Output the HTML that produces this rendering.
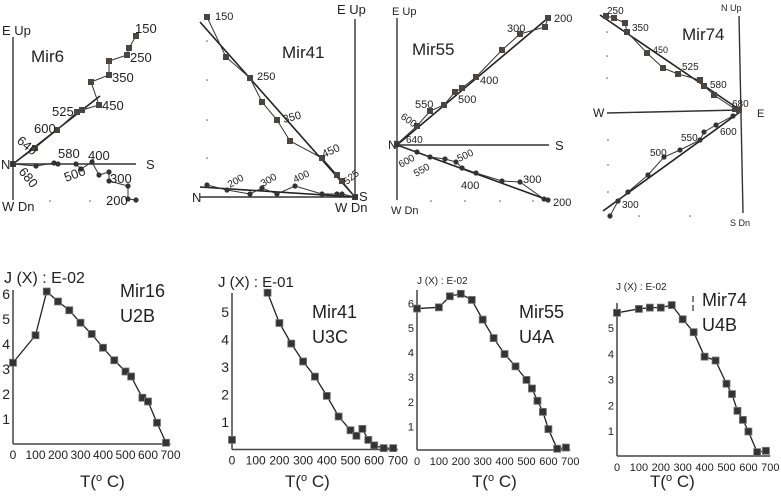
<!DOCTYPE html>
<html><head><meta charset="utf-8"><style>
body{margin:0;background:#fff;}
svg{display:block;font-family:"Liberation Sans",sans-serif;}
</style></head><body>
<svg id="fig" width="781" height="498" viewBox="0 0 781 498" xmlns="http://www.w3.org/2000/svg"></svg>
<script>
// ---------- Intensity decay data ----------
const tMir16=[0,100,150,200,250,300,350,400,450,500,525,575,600,640,680];
const jMir16=[3.25,4.35,6.1,5.7,5.35,4.85,4.4,3.85,3.35,2.9,2.7,1.85,1.7,0.85,0.05];
const tMir41=[0,150,200,250,300,350,400,450,500,525,550,575,600,640,680];
const jMir41=[0.35,5.7,4.6,3.85,3.2,2.65,1.95,1.2,0.7,0.5,0.75,0.35,0.15,0.05,0.05];
const tMir55=[0,100,150,200,250,300,350,400,450,500,525,550,575,600,640,680];
const jMir55=[5.75,5.8,6.25,6.35,6.1,5.3,4.55,3.9,3.4,2.85,2.5,2.0,1.55,0.85,0.05,0.1];
const tMir74=[0,100,150,200,250,300,350,400,450,500,525,550,575,600,640,680];
const jMir74=[5.55,5.7,5.75,5.75,5.85,5.3,4.8,3.85,3.7,2.8,2.4,1.75,1.4,0.95,0.15,0.2];
const xTicks=[0,100,200,300,400,500,600,700];
const yTicks6=[1,2,3,4,5,6];
const yTicks5=[1,2,3,4,5];

// ---------- Zijderveld data (offsets from origin, arbitrary units) ----------
const z6H=[[123,128],[116,116],[114,109],[96,103],[96,89],[78,82],[86,59],[69,54],[64,52],[44,34],[22,16],[0,0]];
const z6V=[[0,0],[23,-2],[41,1],[45,0],[63,0],[68,-5],[79,2],[86,-11],[96,-8],[96,-17],[115,-22],[115,-35],[123,-36]];
const z41H=[[-148,180],[-129,140],[-105,119],[-93,95],[-78,77],[-65,56],[-33,39],[-18,22],[-13,16],[0,0]];
const z41V=[[-148,12],[-128,7],[-105,3],[-93,9],[-78,3],[-60,11],[-33,3],[-18,3],[-13,3],[0,0]];
const z55H=[[151,127],[148,118],[123,111],[105,95],[79,68],[65,57],[58,53],[47,40],[33,34],[20,19],[0,1]];
const z55V=[[0,0],[20,-7],[33,-12],[48,-14],[59,-17],[65,-23],[79,-28],[105,-36],[123,-37],[147,-54],[151,-55]];
const z74H=[[-133,95],[-125,93],[-114,88],[-112,79],[-92,58],[-76,43],[-61,37],[-39,31],[-35,25],[-25,16],[-4,2],[0,1]];
const z74V=[[-6,-5],[-23,-14],[-35,-21],[-39,-29],[-59,-39],[-75,-46],[-91,-64],[-111,-81],[-121,-90],[-129,-105]];

const svg=document.getElementById('fig');
const NS='http://www.w3.org/2000/svg';
function el(tag,attrs,parent){const e=document.createElementNS(NS,tag);for(const k in attrs)e.setAttribute(k,attrs[k]);(parent||svg).appendChild(e);return e;}
function txt(x,y,s,size,parent,rot){const t=el('text',{x:x,y:y,'font-size':size,fill:'#222'},parent);if(rot)t.setAttribute('transform','rotate('+rot+' '+x+' '+y+')');t.textContent=s;return t;}

// ---------- decay panels ----------
function decay(name,T,J,x0,k100,y0,kUnit,yTop,yTicks,title,titleX,titleY,titleSize,lab1,lab2,labX,labY,tlabX,lineStart){
  const g=el('g',{});
  
  
  const sx=t=>x0+t*k100/100, sy=v=>y0-v*kUnit;
  const ax=el('line',{x1:x0,y1:yTop,x2:x0,y2:y0,stroke:'#444','stroke-width':1.5},g);
  
  const bx=el('line',{x1:x0,y1:y0,x2:sx(700),y2:y0,stroke:'#444','stroke-width':1.5},g);
  
  xTicks.forEach(t=>{const l=txt(sx(t),y0+15,String(t),titleSize>11?12:11,g);l.setAttribute('text-anchor','middle');
    });
  yTicks.forEach(v=>{const l=txt(x0-3,sy(v)+5,String(v),titleSize>11?14:11,g);l.setAttribute('text-anchor','end');
    });
  const tl=txt(titleX,titleY,title,titleSize,g);
  const l1=txt(labX,labY,lab1,18,g);
  const l2=txt(labX,labY+25,lab2,18,g);
  const xt=el('text',{x:tlabX,y:487,'font-size':17,fill:'#222'},g);
  xt.innerHTML='T(<tspan font-size="11" dy="-6">o</tspan><tspan dy="6"> C)</tspan>';
  
  const pts=T.map((t,i)=>sx(t)+','+sy(J[i])).slice(lineStart||0).join(' ');
  const pl=el('polyline',{points:pts,fill:'none',stroke:'#222','stroke-width':1.3},g);
  
  T.forEach((t,i)=>{const r=el('rect',{x:sx(t)-3.5,y:sy(J[i])-3.5,width:7,height:7,fill:'#333',stroke:'#777','stroke-width':0.8},g);
    });
}
decay('mir16',tMir16,jMir16,13,22.5,444,25,290,yTicks6,'J (X) : E-02',4,283,16,'Mir16','U2B',120,297,80,0);
decay('mir41',tMir41,jMir41,232,23.7,449.5,27.5,293,yTicks5,'J (X) : E-01',218,287,15,'Mir41','U3C',312,318,285,1);
decay('mir55',tMir55,jMir55,417,21.9,450,24.6,290,yTicks6,'J (X) : E-02',417,284,10,'Mir55','U4A',519,318,472,0);
decay('mir74',tMir74,jMir74,617,21.9,456,25.8,303,yTicks5,'J (X) : E-02',616,290,10,'Mir74','U4B',702,306,650,0);
const dm=el('line',{x1:693,y1:296,x2:693,y2:313,stroke:'#555','stroke-width':1.5,'stroke-dasharray':'6,3'});


// ---------- Zijderveld panels ----------
function zij(name,ox,oy,H,V,fitH,fitV,axes,labels){
  const g=el('g',{});
  
  
  const px=p=>ox+p[0], py=p=>oy-p[1];
  axes.lines.forEach(a=>{const l=el('line',{x1:a[0],y1:a[1],x2:a[2],y2:a[3],stroke:'#333','stroke-width':1.4},g);
    });
  axes.text.forEach(a=>{const t=txt(a[0],a[1],a[2],a[3]||13,g);});
  axes.dots.forEach(d=>{const c=el('circle',{cx:d[0],cy:d[1],r:0.8,fill:'#555'},g);});
  [fitH,fitV].forEach(f=>{if(!f)return;const l=el('line',{x1:f[0],y1:f[1],x2:f[2],y2:f[3],stroke:'#222','stroke-width':1.6},g);
    });
  const ph=el('polyline',{points:H.map(p=>px(p)+','+py(p)).join(' '),fill:'none',stroke:'#333','stroke-width':1},g);
  
  const pv=el('polyline',{points:V.map(p=>px(p)+','+py(p)).join(' '),fill:'none',stroke:'#333','stroke-width':1},g);
  
  H.forEach(p=>{const r=el('rect',{x:px(p)-3,y:py(p)-3,width:6,height:6,fill:'#4a4540'},g);
    });
  V.forEach(p=>{const c=el('circle',{cx:px(p),cy:py(p),r:2.6,fill:'#333'},g);
    });
  labels.forEach(a=>{const t=txt(a[0],a[1],a[2],a[3],g,a[4]);});
}
zij('mir6',13,164,z6H,z6V,[13,164,100,96],null,
 {lines:[[13,37,13,200],[13,164,136,164]],text:[[2,35,'E Up',13],[2,211,'W Dn',13],[1,169,'N',13],[146,169,'S',13],[31,62,'Mir6',17]],
  dots:[[13,58],[13,85],[13,112],[13,138],[13,190],[50,201],[90,201]]},
 [[135,33,'150',13],[130,62,'250',13],[112,82,'350',13],[102,110,'450',13],[52,116,'525',13],[34,133,'600',13],[16,142,'640',13,40],[18,172,'680',13,50],[58,158,'580',13],[88,160,'400',13],[66,182,'500',13,-20],[110,183,'300',13],[106,205,'200',13]]);
zij('mir41',355,197,z41H,z41V,[200,22,355,197],[200,187,355,197],
 {lines:[[355,19,355,197],[200,197,355,197]],text:[[337,14,'E Up',13],[335,212,'W  Dn',13],[192,202,'N',13],[359,201,'S',13],[282,58,'Mir41',17]],
  dots:[[207,41],[207,80],[207,120],[207,158]]},
 [[215,20,'150',11],[257,80,'250',11],[284,123,'350',11,-15],[324,158,'450',11,-25],[347,185,'525',10,-40],[230,188,'200',10,-30],[263,187,'300',10,-30],[295,183,'400',10,-25]]);
zij('mir55',397,145,z55H,z55V,[397,145,548,18],[397,145,548,200],
 {lines:[[397,18,397,200],[397,145,549,145]],text:[[392,15,'E Up',11],[391,214,'W Dn',11],[388,149,'N',12],[555,150,'S',13],[412,55,'Mir55',17]],
  dots:[[397,50],[397,85],[397,115],[431,201],[465,201],[500,201],[533,201]]},
 [[554,22,'200',11],[507,32,'300',11],[480,84,'400',11],[458,103,'500',11],[415,108,'550',11],[400,118,'600',10,35],[406,143,'640',10],[401,168,'600',10,-30],[416,177,'550',10,-30],[459,162,'500',10,-25],[461,189,'400',11],[523,183,'300',11],[553,206,'200',11]]);
zij('mir74',739,111,z74H,z74V,[600,15,740,110],[603,211,740,112],
 {lines:[[739,16,743,213],[607,113,740,110]],text:[[721,11,'N  Up',9],[730,226,'S  Dn',9],[593,117,'W',12],[757,117,'E',11],[682,40,'Mir74',17]],
  dots:[[607,32],[607,56],[607,78],[608,140],[608,165],[608,192],[639,216],[690,216]]},
 [[607,14,'250',10],[632,31,'350',10],[653,53,'450',9],[682,70,'525',10],[710,88,'580',10],[732,107,'680',10],[720,135,'600',10],[681,141,'550',10],[650,156,'500',10],[622,208,'300',10]]);
</script>
</body></html>
